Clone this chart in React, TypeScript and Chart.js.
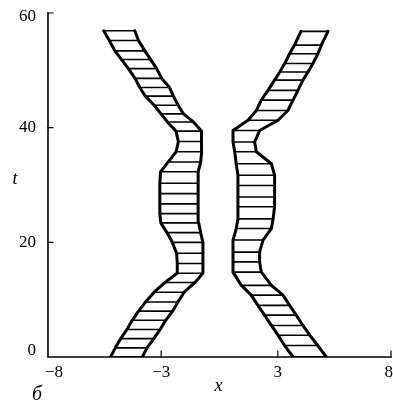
import React, { useEffect, useRef } from "react";
import { Chart, registerables } from "chart.js";

Chart.register(...registerables);

// Axis ticks (the original figure places the "±3" ticks slightly inward)
const xTickValues = [-8, -2.72, 2.72, 8];
const xTickLabels = ["−8", "−3", "3", "8"];
const yTickValues = [0, 20, 40, 60];
const yTickLabels = ["0", "20", "40", "60"];

// Left band: times of hatch rows and its left / right edges
const leftBandT = [0, 1.6, 3.2, 4.8, 6.4, 8.0, 9.6, 11.3, 13.0, 14.6, 16.3, 18.1, 20.0, 21.7, 23.4, 25.0, 26.7, 28.5, 30.3, 32.3, 34.0, 35.8, 37.6, 39.4, 41.0, 42.4, 43.9, 45.5, 47.0, 48.6, 50.3, 51.9, 53.4, 55.2, 56.9];
const leftBandLeftX = [-5.08, -4.86, -4.61, -4.32, -4.07, -3.78, -3.45, -3.05, -2.54, -1.98, -1.97, -2.0, -2.2, -2.45, -2.74, -2.78, -2.79, -2.78, -2.78, -2.75, -2.4, -2.02, -1.92, -2.03, -2.43, -2.73, -3.05, -3.46, -3.72, -3.94, -4.25, -4.58, -4.88, -5.14, -5.4];
const leftBandRightX = [-3.6, -3.38, -3.06, -2.77, -2.51, -2.19, -1.94, -1.65, -1.14, -0.78, -0.77, -0.77, -0.78, -0.88, -0.97, -1.0, -1.0, -1.0, -1.0, -0.98, -0.88, -0.83, -0.83, -0.85, -1.22, -1.68, -1.93, -2.15, -2.33, -2.7, -2.93, -3.22, -3.48, -3.78, -3.95];

// Right band
const rightBandT = [0, 2.0, 3.8, 5.5, 7.3, 9.0, 10.8, 12.5, 14.8, 16.6, 18.3, 20.4, 22.4, 24.1, 26.2, 27.9, 29.9, 31.7, 33.7, 35.8, 37.5, 39.5, 41.3, 43.0, 44.8, 46.5, 48.3, 49.7, 51.2, 52.9, 54.4, 56.8];
const rightBandLeftX = [3.43, 3.04, 2.73, 2.42, 2.1, 1.79, 1.48, 1.02, 0.63, 0.63, 0.63, 0.63, 0.78, 0.86, 0.86, 0.86, 0.86, 0.86, 0.78, 0.71, 0.63, 0.63, 1.33, 1.72, 1.95, 2.26, 2.57, 2.81, 3.04, 3.27, 3.5, 3.8];
const rightBandRightX = [4.98, 4.59, 4.21, 3.89, 3.58, 3.27, 2.96, 2.42, 1.95, 1.87, 1.87, 2.03, 2.42, 2.5, 2.57, 2.57, 2.57, 2.57, 2.42, 1.72, 1.64, 1.87, 2.73, 3.19, 3.43, 3.66, 3.89, 4.13, 4.36, 4.59, 4.75, 5.06];

const xTitle = "x";
const yTitle = "t";
const panelLabel = "б";

const edge = (ts: number[], xs: number[]) => ts.map((t, i) => ({ x: xs[i], y: t }));
const hatch = (ts: number[], xl: number[], xr: number[]) =>
  ts.flatMap((t, i) => [
    { x: xl[i], y: t },
    { x: xr[i], y: t },
    { x: NaN, y: NaN },
  ]);

const SERIF = '"Liberation Serif", "DejaVu Serif", serif';

const axesPlugin = {
  id: "axesPlugin",
  afterDraw(chart: any) {
    const { ctx, chartArea, scales } = chart;
    const xs = scales.x;
    const ys = scales.y;
    const { left, right, top, bottom } = chartArea;
    ctx.save();
    ctx.strokeStyle = "#000";
    ctx.fillStyle = "#000";
    ctx.lineWidth = 1.6;
    ctx.lineCap = "square";
    ctx.beginPath();
    ctx.moveTo(left, top);
    ctx.lineTo(left, bottom);
    ctx.lineTo(right, bottom);
    ctx.stroke();
    ctx.lineWidth = 1.2;
    ctx.beginPath();
    yTickValues.forEach((v) => {
      if (v === yTickValues[0]) return;
      const py = ys.getPixelForValue(v);
      ctx.moveTo(left, py);
      ctx.lineTo(left + 5, py);
    });
    xTickValues.forEach((v) => {
      if (v === xTickValues[0]) return;
      const px = xs.getPixelForValue(v);
      ctx.moveTo(px, bottom);
      ctx.lineTo(px, bottom - 6);
    });
    ctx.stroke();

    ctx.font = "17px " + SERIF;
    ctx.textBaseline = "middle";
    ctx.textAlign = "right";
    yTickValues.forEach((v, i) => {
      let py = ys.getPixelForValue(v);
      py = Math.min(Math.max(py, top + 4), bottom - 6);
      ctx.fillText(yTickLabels[i], left - 12, py);
    });
    xTickValues.forEach((v, i) => {
      const px = xs.getPixelForValue(v);
      if (i === 0) {
        ctx.textAlign = "left";
        ctx.fillText(xTickLabels[i], px - 3, bottom + 16);
      } else if (i === xTickValues.length - 1) {
        ctx.textAlign = "right";
        ctx.fillText(xTickLabels[i], px + 2, bottom + 16);
      } else {
        ctx.textAlign = "center";
        ctx.fillText(xTickLabels[i], px, bottom + 16);
      }
    });

    ctx.font = "italic 18px " + SERIF;
    ctx.textAlign = "center";
    ctx.fillText(yTitle, 15, (top + bottom) / 2 - 6);
    ctx.fillText(xTitle, xs.getPixelForValue(0) - 1, bottom + 29);
    ctx.font = "italic 20px " + SERIF;
    ctx.fillText(panelLabel, 37, bottom + 38);
    ctx.restore();
  },
};

export default function App() {
  const ref = useRef<HTMLCanvasElement | null>(null);
  useEffect(() => {
    document.body.style.margin = "0";
    const canvas = ref.current;
    if (!canvas) return;
    const boundaryStyle = {
      showLine: true,
      borderColor: "#000",
      borderWidth: 3,
      pointRadius: 0,
      borderJoinStyle: "round",
      borderCapStyle: "round",
      tension: 0,
      spanGaps: false,
    };
    const hatchStyle = { ...boundaryStyle, borderWidth: 1.6 };
    const chart = new Chart(canvas, {
      type: "scatter",
      data: {
        datasets: [
          { ...hatchStyle, label: "left rows", data: hatch(leftBandT, leftBandLeftX, leftBandRightX) },
          { ...hatchStyle, label: "right rows", data: hatch(rightBandT, rightBandLeftX, rightBandRightX) },
          { ...boundaryStyle, label: "left band, left edge", data: edge(leftBandT, leftBandLeftX) },
          { ...boundaryStyle, label: "left band, right edge", data: edge(leftBandT, leftBandRightX) },
          { ...boundaryStyle, label: "right band, left edge", data: edge(rightBandT, rightBandLeftX) },
          { ...boundaryStyle, label: "right band, right edge", data: edge(rightBandT, rightBandRightX) },
        ] as any,
      },
      options: {
        animation: false,
        responsive: false,
        devicePixelRatio: 1,
        layout: { padding: { left: 48, right: 2, top: 13, bottom: 46 } },
        plugins: { legend: { display: false }, tooltip: { enabled: false } },
        events: [],
        scales: {
          x: { type: "linear", min: -8, max: 8, display: false },
          y: { type: "linear", min: 0, max: 60, display: false },
        },
      },
      plugins: [axesPlugin],
    } as any);
    return () => chart.destroy();
  }, []);
  return (
    <div style={{ position: "absolute", left: 0, top: 0, width: 393, height: 403, background: "#fff" }}>
      <canvas ref={ref} width={393} height={403} style={{ display: "block" }} />
    </div>
  );
}
